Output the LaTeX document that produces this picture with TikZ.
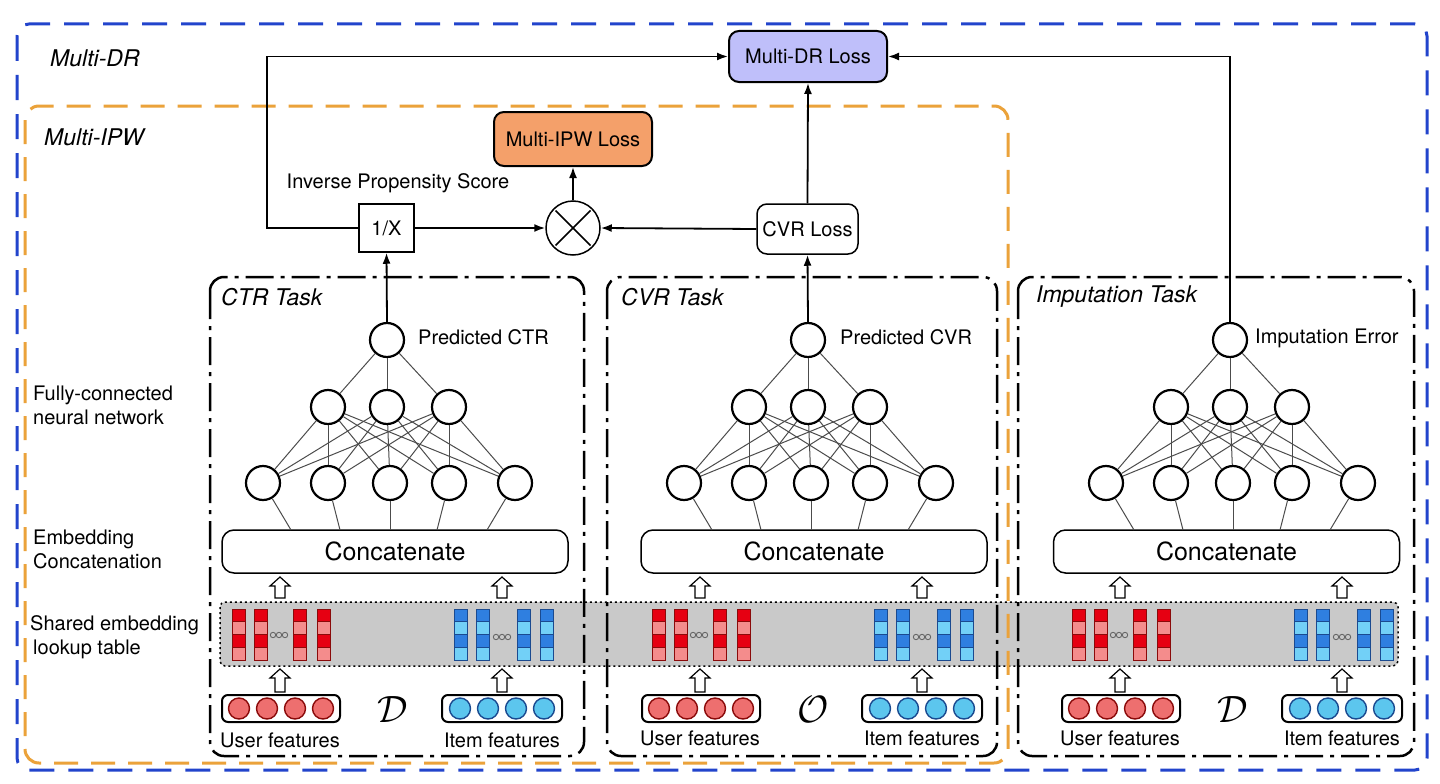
\documentclass[tikz,border=0pt]{standalone}
\usepackage{fontspec}
\usepackage{graphicx}
\setmainfont{TeX Gyre Heros}
\usetikzlibrary{arrows.meta,calc}
\definecolor{dblue}{HTML}{2244CC}
\definecolor{dorange}{HTML}{EBA23A}
\definecolor{lav}{HTML}{BFBFFA}
\definecolor{lossorange}{HTML}{F4A06A}
\definecolor{bandgray}{HTML}{C9C9C9}
\definecolor{redD}{HTML}{E60012}
\definecolor{redL}{HTML}{F48C8C}
\definecolor{redB}{HTML}{8A0A0A}
\definecolor{bluD}{HTML}{2F7FE0}
\definecolor{bluL}{HTML}{72D0F7}
\definecolor{bluB}{HTML}{1A4A90}
\definecolor{featR}{HTML}{EE6F6F}
\definecolor{featB}{HTML}{5CC6EE}
\tikzset{
  nn/.style={circle,draw,line width=2.2pt,minimum size=34pt,inner sep=0pt,fill=white},
  conn/.style={line width=1pt,draw=black!70},
  arr/.style={line width=1.8pt,-{Latex[length=11pt,width=8pt]}},
  txt/.style={inner sep=0pt,font=\fontsize{20}{24}\selectfont},
  grp/.style={inner sep=0pt,anchor=west,font=\fontsize{23}{26}\selectfont\itshape},
  concat/.style={draw,rounded corners=12pt,line width=1.5pt,minimum width=346pt,minimum height=43pt,inner sep=0pt,font=\fontsize{25}{28}\selectfont},
  taskbox/.style={line width=2.5pt,rounded corners=14pt,dash pattern=on 28pt off 7pt on 4pt off 7pt},
  featbox/.style={draw,line width=2pt,rounded corners=6pt,minimum height=27pt,inner sep=0pt},
  fc/.style={circle,draw,line width=1.4pt,minimum size=21pt,inner sep=0pt},
  hollow/.style={fill=white,draw=black,line width=1.2pt,line join=miter},
  losslbl/.style={draw,line width=2pt,rounded corners=10pt,inner sep=0pt,font=\fontsize{20}{24}\selectfont}
}
\newcommand\embcol[4]{%
  \filldraw[fill=#2,draw=#4,line width=0.8pt] (#1,609) rectangle ++(13,12.75);
  \filldraw[fill=#3,draw=#4,line width=0.8pt] (#1,621.75) rectangle ++(13,12.75);
  \filldraw[fill=#2,draw=#4,line width=0.8pt] (#1,634.5) rectangle ++(13,12.75);
  \filldraw[fill=#3,draw=#4,line width=0.8pt] (#1,647.25) rectangle ++(13,12.75);}
\newcommand\ooo[2]{%
  \foreach \q in {0,6,12} \draw[black!60,line width=0.9pt] (#1+\q,#2) circle (2.7pt);}
\newcommand\hollowup[3]{%
  \draw[hollow] (#1-5,#3) -- (#1-5,#2+9) -- (#1-10,#2+9) -- (#1,#2) -- (#1+10,#2+9) -- (#1+5,#2+9) -- (#1+5,#3) -- cycle;}
\newcommand\netblock[3]{%
  \begin{scope}[xshift=#2pt]
    \node[nn] (#1o) at (387,340) {};
    \foreach \k/\x in {1/328,2/387,3/449} \node[nn] (#1h\k) at (\x,407) {};
    \foreach \k/\x/\d in {1/263/28,2/328/12,3/390/0,4/449/-12,5/515/-28} {
      \node[nn] (#1i\k) at (\x,483) {};
      \coordinate (#1t\k) at (\x+\d,530);}
  \end{scope}
  \node[concat] (#1cat) at (#3,551.5) {Concatenate};
  \foreach \a in {1,2,3} {
    \draw[conn] (#1o) -- (#1h\a);
    \foreach \b in {1,...,5} \draw[conn] (#1h\a) -- (#1i\b);}
  \foreach \b in {1,...,5} \draw[conn] (#1i\b) -- (#1t\b);
}
\newcommand\embblock[4]{% prefix, offset, math symbol, text y
  \begin{scope}[xshift=#2pt]
    \foreach \x in {232,254,293,317} {\embcol{\x}{redD}{redL}{redB}}
    \ooo{273}{635}
    \foreach \x in {454,476,517,540} {\embcol{\x}{bluD}{bluL}{bluB}}
    \ooo{496}{637}
    \hollowup{280}{577}{598}\hollowup{502}{577}{598}
    \hollowup{280}{669}{692}\hollowup{502}{669}{692}
    \node[featbox,minimum width=118pt] (#1ub) at (281,708.5) {};
    \node[featbox,minimum width=120pt] (#1ib) at (502,708.5) {};
    \foreach \k in {0,...,3} {
      \node[fc,fill=featR,draw=redB] (#1uc\k) at (239+28*\k,708.5) {};
      \node[fc,fill=featB,draw=bluB] (#1ic\k) at (460+28*\k,708.5) {};}
    \node[inner sep=0pt] (#1sym) at (393,710) {\scalebox{3.8}{$#3$}};
    \node[txt] (#1ut) at (280,#4) {User features};
    \node[txt] (#1it) at (502,#4) {Item features};
  \end{scope}}
\begin{document}
\begin{tikzpicture}[x=1pt,y=-1pt]
\useasboundingbox (0,0) rectangle (1440,784);
\fill[white] (0,0) rectangle (1440,784);
% shared embedding band
\draw[fill=bandgray,line width=1.5pt,dash pattern=on 2pt off 3pt,rounded corners=5pt] (220,602) rectangle (1398,666);
% embeddings and features
\embblock{ctr}{0}{\mathcal{D}}{740}
\embblock{cvr}{420}{\mathcal{O}}{738}
\embblock{imp}{840}{\mathcal{D}}{738}
% networks
\netblock{ctr}{0}{395}
\netblock{cvr}{421}{814}
\netblock{imp}{843}{1226.5}
% group frames
\draw[dblue,line width=3pt,dash pattern=on 25pt off 14pt,rounded corners=12pt] (17,24) rectangle (1427,770);
\draw[dorange,line width=3pt,dash pattern=on 24pt off 13pt,rounded corners=14pt] (25,106) rectangle (1008,763);
\node[grp] (gDR) at (50,58) {Multi-DR};
\node[grp] (gIPW) at (44,137) {Multi-IPW};
% task frames
\draw[taskbox] (210,277) rectangle (584,756);
\draw[taskbox] (607,277) rectangle (997,756);
\draw[taskbox] (1018,277) rectangle (1414,756);
\node[grp] (tCTR) at (221,297) {CTR Task};
\node[grp] (tCVR) at (621,297) {CVR Task};
\node[grp] (tIMP) at (1036,297) {Imputation Task};
% left labels
\node[txt,anchor=west,align=left] (lFC) at (33,405) {Fully-connected\\neural network};
\node[txt,anchor=west,align=left] (lEC) at (33,549) {Embedding\\Concatenation};
\node[txt,anchor=west,align=left] (lSE) at (30,637) {Shared embedding\\\hspace*{3pt}lookup table};
% output labels
\node[txt,anchor=west] (pCTR) at (418,337) {Predicted CTR};
\node[txt,anchor=west] (pCVR) at (840,337) {Predicted CVR};
\node[txt,anchor=west] (pIMP) at (1255,338) {Imputation Error};
% loss part
\node[losslbl,fill=lav,minimum width=158pt,minimum height=51pt] (mdr) at (808,56.5) {Multi-DR Loss};
\node[losslbl,fill=lossorange,minimum width=158pt,minimum height=54pt] (mipw) at (573,139) {Multi-IPW Loss};
\node[losslbl,line width=1.5pt,fill=white,minimum width=101pt,minimum height=50pt] (cvrl) at (807.5,229) {CVR Loss};
\node[draw,line width=1.5pt,minimum width=55pt,minimum height=48pt,inner sep=0pt,font=\fontsize{20}{24}\selectfont] (onex) at (386.5,228) {1/X};
\node[circle,draw,line width=1.5pt,minimum size=54pt,inner sep=0pt] (mul) at (573,228) {};
\draw[line width=1.5pt,shorten >=3pt,shorten <=3pt] (mul.north west) -- (mul.south east);
\draw[line width=1.5pt,shorten >=3pt,shorten <=3pt] (mul.north east) -- (mul.south west);
\node[txt] (ips) at (398,183) {Inverse Propensity Score};
\coordinate (lp) at (267,228);
% connectors
\draw[arr] (ctro.north) -- (onex.south);
\draw[arr] (cvro.north) -- (cvrl.south);
\draw[arr] (onex.east) -- (mul.west);
\draw[arr] (cvrl.west) -- (mul.east);
\draw[arr] (mul.north) -- (mipw.south);
\draw[arr] (cvrl.north) -- (mdr.south);
\draw[arr] (onex.west) -- (lp) |- (mdr.west);
\draw[arr] (impo.north) |- (mdr.east);
\end{tikzpicture}
\end{document}
